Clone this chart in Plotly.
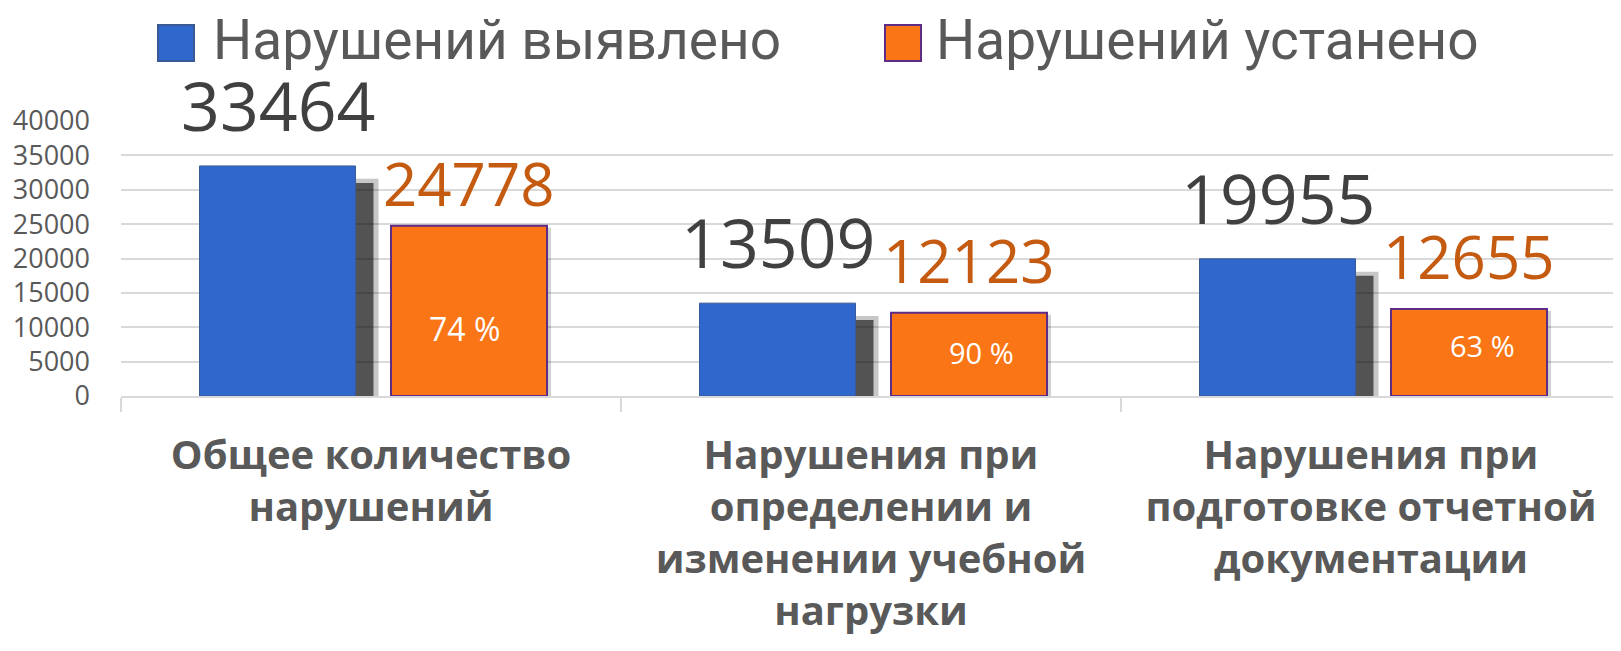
import plotly.graph_objects as go

# ---- data ----
categories = [
    "Общее количество<br>нарушений",
    "Нарушения при<br>определении и<br>изменении учебной<br>нагрузки",
    "Нарушения при<br>подготовке отчетной<br>документации",
]
detected = [33464, 13509, 19955]
resolved = [24778, 12123, 12655]
percent_labels = ["74 %", "90 %", "63 %"]
series_names = ["Нарушений выявлено", "Нарушений устанено"]
y_ticks = [0, 5000, 10000, 15000, 20000, 25000, 30000, 35000, 40000]
y_tick_labels = ["0", "5000", "10000", "15000", "20000", "25000", "30000", "35000", "40000"]

# ---- style ----
BLUE = "#3067CC"
ORANGE = "#F97516"
ORANGE_EDGE = "#5E2B86"
BLUE_EDGE = "#3A5A95"
GREY_TXT = "#595959"
DARK_TXT = "#404040"
ORANGE_TXT = "#C55A11"
GRID = "#D9D9D9"

BAR_W = 0.312
BLUE_OFF = -0.343
ORANGE_OFF = 0.040
SHADOW_DX = 0.036
SHADOW_DROP = 2470

# label nudges (pixels)
resolved_label_dy = [-10, 0, 0]
pct_dx = [-5, 12, 13]
pct_dy = [-18, 2, 7]
pct_size = [32, 29, 29]

idx = list(range(len(categories)))

fig = go.Figure()

# soft shadow behind blue bars (halo + core)
fig.add_trace(go.Bar(
    x=categories, y=[v - SHADOW_DROP + 600 for v in detected],
    offset=BLUE_OFF + SHADOW_DX - 0.006, width=BAR_W + 0.016,
    marker=dict(color="rgba(0,0,0,0.22)", line=dict(width=0)),
    showlegend=False, hoverinfo="skip",
))
fig.add_trace(go.Bar(
    x=categories, y=[v - SHADOW_DROP for v in detected],
    offset=BLUE_OFF + SHADOW_DX, width=BAR_W,
    marker=dict(color="rgba(0,0,0,0.58)", line=dict(width=0)),
    showlegend=False, hoverinfo="skip",
))
# faint shadow of orange bars
fig.add_trace(go.Bar(
    x=categories, y=[v - 300 for v in resolved],
    offset=ORANGE_OFF + 0.008, width=BAR_W,
    marker=dict(color="rgba(0,0,0,0.18)", line=dict(width=0)),
    showlegend=False, hoverinfo="skip",
))
fig.add_trace(go.Bar(
    x=categories, y=detected, name=series_names[0],
    offset=BLUE_OFF, width=BAR_W,
    marker=dict(color=BLUE, line=dict(color=BLUE_EDGE, width=1)),
    showlegend=False,
))
fig.add_trace(go.Bar(
    x=categories, y=resolved, name=series_names[1],
    offset=ORANGE_OFF, width=BAR_W,
    marker=dict(color=ORANGE, line=dict(color=ORANGE_EDGE, width=2)),
    showlegend=False,
))

annotations = []
for i, v in zip(idx, detected):
    annotations.append(dict(
        x=i + BLUE_OFF + BAR_W / 2, y=v, xref="x", yref="y",
        text=str(v), showarrow=False, yanchor="bottom", yshift=13,
        font=dict(family="Open Sans", size=68, color=DARK_TXT),
    ))
for i, v, dy in zip(idx, resolved, resolved_label_dy):
    annotations.append(dict(
        x=i + ORANGE_OFF + BAR_W / 2, y=v, xref="x", yref="y",
        text=str(v), showarrow=False, yanchor="bottom", yshift=10 + dy,
        font=dict(family="Open Sans", size=60, color=ORANGE_TXT),
    ))
for i, v, t, dx, dy, fs in zip(idx, resolved, percent_labels, pct_dx, pct_dy, pct_size):
    annotations.append(dict(
        x=i + ORANGE_OFF + BAR_W / 2, y=v / 2, xref="x", yref="y",
        text=t, showarrow=False, yanchor="middle", xshift=dx, yshift=dy,
        font=dict(family="Open Sans", size=fs, color="white"),
    ))

# legend (large swatches)
legend_items = [
    (0.0367, 0.0600, BLUE, BLUE_EDGE, series_names[0]),
    (0.5210, 0.5420, ORANGE, ORANGE_EDGE, series_names[1]),
]
for bx, tx, fill, edge, name in legend_items:
    annotations.append(dict(
        x=bx, y=1.2836, xref="paper", yref="paper", text=" ",
        showarrow=False, width=32, height=32, bgcolor=fill,
        bordercolor=edge, borderwidth=2, xanchor="center", yanchor="middle",
    ))
    annotations.append(dict(
        x=tx, y=1.2945, xref="paper", yref="paper", text=name,
        showarrow=False, xanchor="left", yanchor="middle",
        font=dict(family="Roboto", size=55, color=GREY_TXT),
    ))

# the page body has an 8px margin, so the figure is offset by 8px
fig.update_layout(
    width=1613, height=643,
    margin=dict(l=113, r=0, t=113, b=255, pad=0),
    paper_bgcolor="white", plot_bgcolor="white",
    barmode="overlay",
    annotations=annotations,
    showlegend=False,
)
fig.update_xaxes(
    type="category", range=[-0.5, 2.5],
    tickson="boundaries", ticks="outside", ticklen=14, tickwidth=2, tickcolor=GRID,
    showline=True, linecolor=GRID, linewidth=2, showgrid=False,
    ticklabelstandoff=23,
    tickfont=dict(family="Open Sans", size=40, color=GREY_TXT, weight="bold"),
)
fig.update_yaxes(
    range=[0, 40000], tickvals=y_ticks, ticktext=y_tick_labels,
    showgrid=True, gridcolor=GRID, gridwidth=2, zeroline=False, showline=False,
    ticks="", ticklabelstandoff=30,
    tickfont=dict(family="Open Sans", size=27, color=GREY_TXT),
)

fig.write_html("out.html")
